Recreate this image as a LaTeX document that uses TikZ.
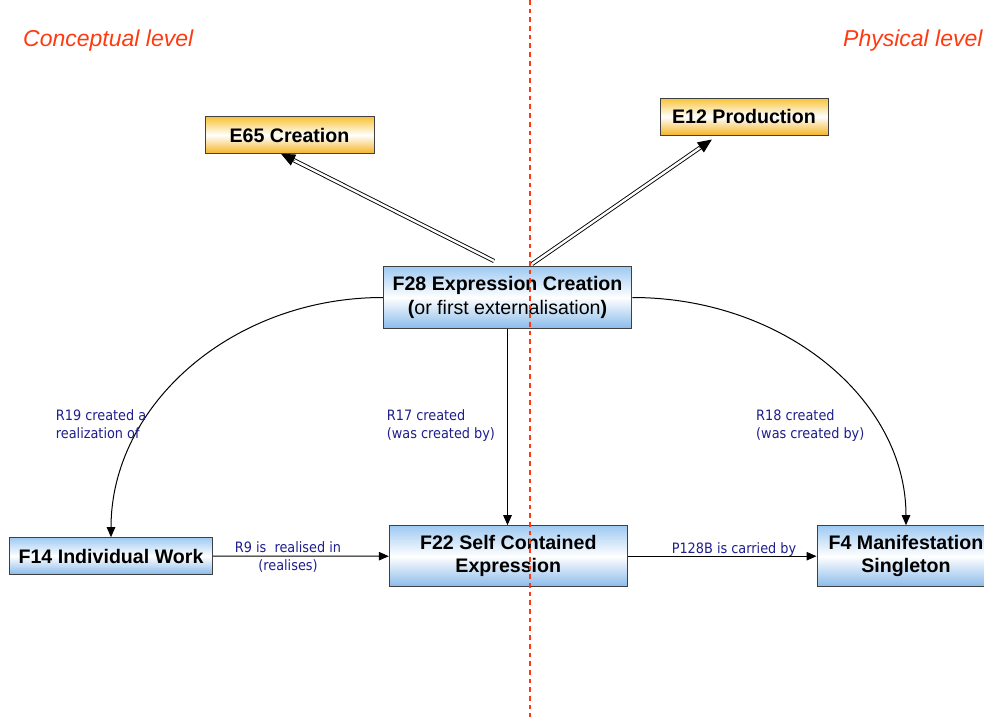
\documentclass[tikz,border=0pt]{standalone}
\usepackage{fontspec}
\setmainfont{Liberation Sans}
\newfontfamily\lblfont{DejaVu Sans Condensed}
\usetikzlibrary{arrows.meta,calc}
\definecolor{bluetop}{HTML}{9FCAF2}
\definecolor{bluebot}{HTML}{8ABBEA}
\definecolor{goldtop}{HTML}{F7C234}
\definecolor{goldbot}{HTML}{F4B526}
\definecolor{lblcol}{HTML}{1E1E8C}
\definecolor{redlvl}{HTML}{FF3A10}
\begin{document}
\begin{tikzpicture}[x=1pt,y=-1pt,
 box/.style={draw=black!75, line width=1pt, inner sep=0pt, align=center, font=\fontsize{19.6}{23.3}\selectfont\bfseries},
 bluebox/.style={box, top color=bluetop, bottom color=bluebot, middle color=white},
 goldbox/.style={box, top color=goldtop, bottom color=goldbot, middle color=white},
 arr/.style={line width=1pt, -{Triangle[length=10pt,width=8.5pt]}},
 dblline/.style={double=white, double distance=2.4pt, line width=0.9pt},
 dbltip/.style={line width=0.9pt, -{Triangle[length=14pt,width=12pt]}},
 lbl/.style={text=lblcol, font=\lblfont\fontsize{14.3}{17.5}\selectfont, inner sep=0pt, align=left},
 lvl/.style={text=redlvl, font=\fontsize{23}{27}\selectfont\itshape, inner sep=0pt},
 reddash/.style={draw=redlvl, line width=1.1pt, dash pattern=on 4.7pt off 4pt}
]
\useasboundingbox (0,0) rectangle (984,717);

% level titles
\node[lvl, anchor=base west] (conc) at (23,47) {Conceptual level};
\node[lvl, anchor=base west] (phys) at (843,47) {Physical level};

% boxes
\node[goldbox, minimum width=169pt, minimum height=36.5pt] (e65) at (289.5,135) {E65 Creation};
\node[goldbox, minimum width=168pt, minimum height=37pt] (e12) at (744,116.5) {E12 Production};
\node[bluebox, minimum width=248.5pt, minimum height=61.5pt] (f28) at (507.5,297.5)
  {F28 Expression Creation\\(\textmd{or first externalisation})};
\node[bluebox, minimum width=203.4pt, minimum height=36.6pt] (f14) at (111,556) {F14 Individual Work};
\node[bluebox, minimum width=238pt, minimum height=61pt] (f22) at (508.3,556.2) {F22 Self Contained\\Expression};
\node[bluebox, minimum width=178pt, minimum height=61pt] (f4) at (906,556.2) {F4 Manifestation\\Singleton};

% double arrows
\coordinate (s65) at (494,261);
\coordinate (s12) at (532,264);
\coordinate (t65) at ($(e65.south west)!0.45!(e65.south east)$);
\coordinate (t12) at ($(e12.south west)!0.31!(e12.south east)+(0,4)$);
\draw[dblline, shorten >=12pt] (s65) -- (t65);
\draw[dbltip] ($(t65)!15pt!(s65)$) -- (t65);
\draw[dblline, shorten >=12pt] (s12) -- (t12);
\draw[dbltip] ($(t12)!15pt!(s12)$) -- (t12);

% curved arrows
\draw[arr] (f28.west) .. controls +(-150.3,0) and +(0,-132.6) .. (f14.north);
\draw[arr] (f28.east) .. controls +(151.4,0) and +(0,-126) .. (f4.north);
\draw[arr] (f28.south) -- (f28.south |- f22.north);
\draw[arr] (f14.east) -- (f22.west);
\draw[arr] (f22.east) -- (f4.west);

% labels (base = baseline of last line)
\node[lbl, anchor=base west] (l19) at (55.7,438.2) {R19 created a\\realization of};
\node[lbl, anchor=base west] (l17) at (386.7,438.2) {R17 created\\(was created by)};
\node[lbl, anchor=base west] (l18) at (756,438.2) {R18 created\\(was created by)};
\node[lbl, align=center, anchor=base] (l9) at (288,570.2) {R9 is~ realised in\\(realises)};
\node[lbl, anchor=base] (l128) at (734,553.3) {P128B is carried by};

% divider
\draw[reddash] (530,0) -- (530,717);
\end{tikzpicture}
\end{document}
